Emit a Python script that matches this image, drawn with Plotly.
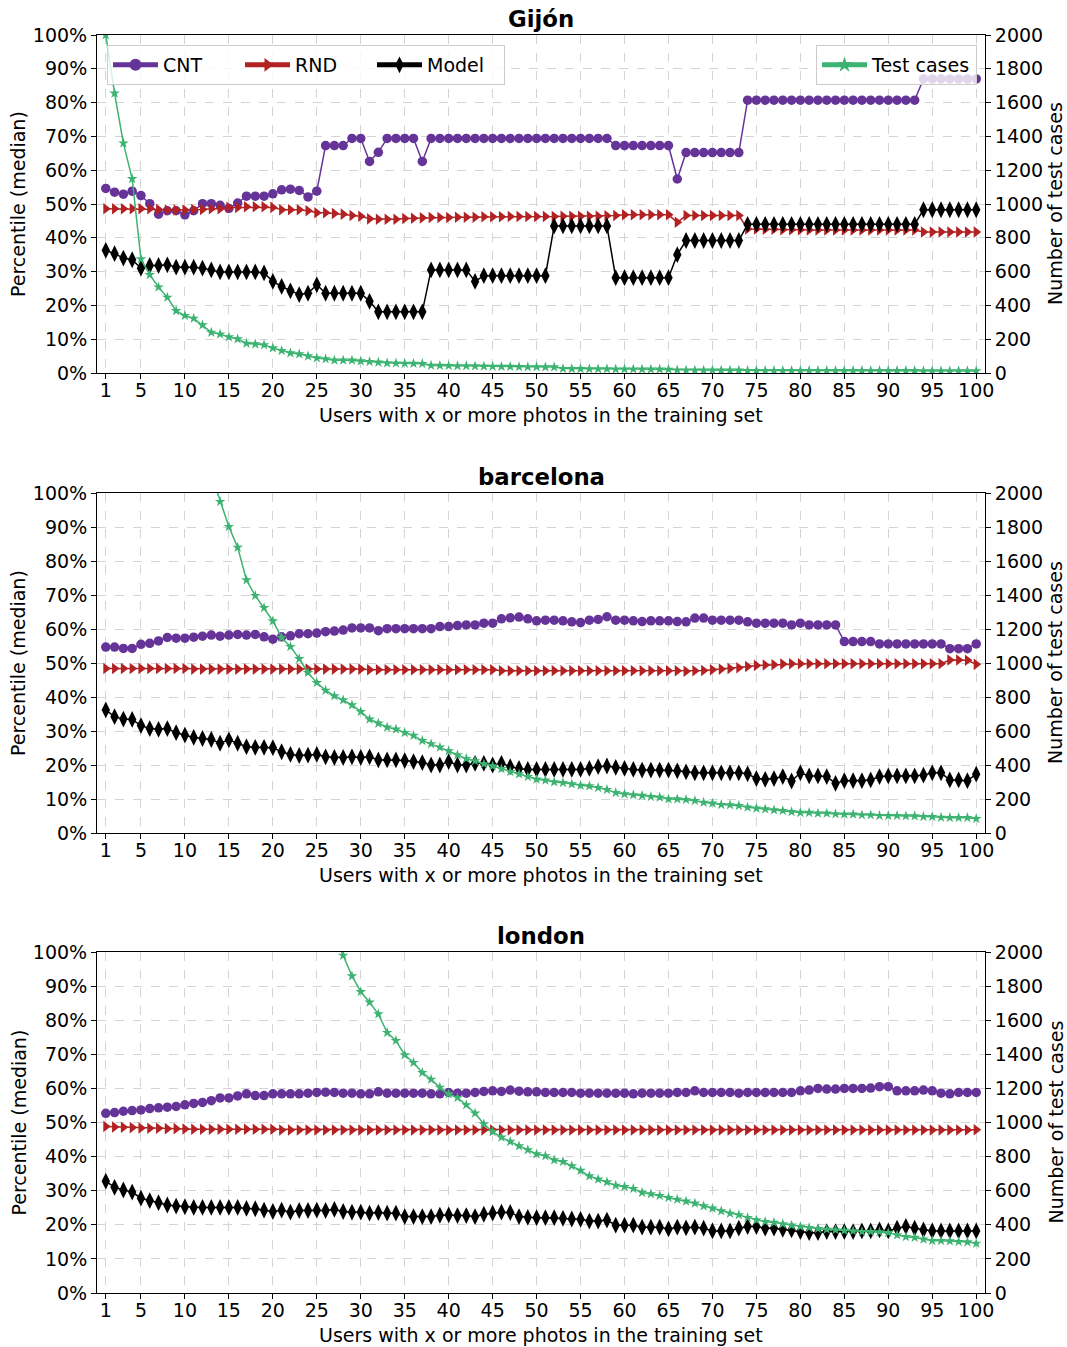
import plotly.graph_objects as go
from plotly.subplots import make_subplots

# ---------------- data ----------------
users = list(range(1, 101))

gijon_cnt = [54.6, 53.5, 52.9, 53.8, 52.5, 50.1, 47.0, 48.0, 48.0, 46.8,
             48.0, 50.1, 50.1, 49.6, 48.7, 50.3, 52.3, 52.3, 52.3, 53.0,
             54.2, 54.4, 54.0, 52.1, 53.8, 67.3, 67.3, 67.3, 69.4, 69.4,
             62.6, 65.3, 69.4, 69.4, 69.4, 69.4, 62.6, 69.4, 69.4, 69.4,
             69.4, 69.4, 69.4, 69.4, 69.4, 69.4, 69.4, 69.4, 69.4, 69.4,
             69.4, 69.4, 69.4, 69.4, 69.4, 69.4, 69.4, 69.4, 67.3, 67.3,
             67.3, 67.3, 67.3, 67.3, 67.3, 57.4, 65.2, 65.2, 65.2, 65.2,
             65.2, 65.2, 65.2, 80.7, 80.7, 80.7, 80.7, 80.7, 80.7, 80.7,
             80.7, 80.7, 80.7, 80.7, 80.7, 80.7, 80.7, 80.7, 80.7, 80.7,
             80.7, 80.7, 80.7, 87.0, 87.0, 87.0, 87.0, 87.0, 87.0, 87.0]
gijon_rnd = [48.6, 48.6, 48.6, 48.6, 48.6, 48.6, 48.4, 48.2, 48.2, 48.2,
             48.4, 48.4, 48.6, 48.6, 49.0, 49.0, 49.2, 49.2, 49.2, 49.0,
             48.3, 48.3, 48.3, 48.0, 47.4, 47.4, 47.2, 47.0, 46.6, 46.4,
             45.6, 45.5, 45.5, 45.5, 45.7, 45.8, 45.9, 46.0, 46.0, 46.0,
             46.1, 46.1, 46.1, 46.2, 46.2, 46.2, 46.3, 46.3, 46.3, 46.3,
             46.3, 46.3, 46.4, 46.4, 46.4, 46.4, 46.4, 46.5, 46.6, 46.8,
             46.8, 46.8, 46.8, 46.8, 46.8, 44.6, 46.6, 46.6, 46.6, 46.6,
             46.6, 46.6, 46.6, 42.6, 42.6, 42.5, 42.5, 42.4, 42.4, 42.4,
             42.3, 42.3, 42.3, 42.3, 42.3, 42.3, 42.3, 42.3, 42.3, 42.3,
             42.3, 42.3, 42.3, 41.7, 41.7, 41.7, 41.7, 41.7, 41.7, 41.7]
gijon_model = [36.3, 35.3, 34.0, 33.5, 31.0, 31.8, 31.8, 32.0, 31.3, 31.3,
               31.3, 31.0, 30.5, 29.9, 29.9, 29.9, 29.9, 29.9, 29.6, 27.1,
               25.6, 24.3, 23.2, 23.6, 26.1, 23.6, 23.6, 23.6, 23.6, 23.6,
               21.2, 18.1, 18.1, 18.1, 18.1, 18.1, 18.1, 30.5, 30.5, 30.5,
               30.5, 30.5, 27.1, 28.8, 28.8, 28.8, 28.8, 28.8, 28.8, 28.8,
               28.8, 43.5, 43.5, 43.5, 43.5, 43.5, 43.5, 43.5, 28.2, 28.2,
               28.2, 28.2, 28.2, 28.2, 28.2, 35.0, 39.2, 39.2, 39.2, 39.2,
               39.2, 39.2, 39.2, 44.0, 44.0, 44.0, 44.0, 44.0, 44.0, 44.0,
               44.0, 44.0, 44.0, 44.0, 44.0, 44.0, 44.0, 44.0, 44.0, 44.0,
               44.0, 44.0, 44.0, 48.3, 48.3, 48.3, 48.3, 48.3, 48.3, 48.3]
gijon_test = [2000, 1655, 1360, 1149, 674, 581, 508, 447, 368, 339,
              323, 284, 240, 230, 213, 201, 175, 171, 166, 148,
              132, 118, 112, 100, 89, 83, 75, 75, 75, 71,
              67, 63, 59, 58, 57, 56, 55, 45, 44, 43,
              42, 42, 41, 40, 39, 38, 38, 37, 36, 36,
              35, 35, 26, 25, 25, 24, 24, 24, 23, 23,
              23, 22, 22, 22, 21, 17, 16, 16, 16, 16,
              16, 16, 16, 14, 14, 14, 14, 14, 14, 14,
              14, 14, 14, 14, 14, 14, 14, 14, 14, 14,
              14, 14, 14, 12, 12, 12, 12, 12, 12, 12]

barcelona_cnt = [54.7, 54.7, 54.3, 54.3, 55.5, 55.8, 56.5, 57.5, 57.3, 57.3,
                 57.6, 57.9, 58.2, 57.9, 58.2, 58.4, 58.2, 58.4, 57.7, 57.0,
                 57.7, 58.0, 58.6, 58.6, 58.8, 59.2, 59.4, 59.7, 60.3, 60.3,
                 60.3, 59.5, 60.1, 60.1, 60.1, 60.1, 60.1, 60.1, 60.7, 60.7,
                 61.0, 61.2, 61.2, 61.7, 61.7, 63.0, 63.3, 63.5, 63.0, 62.4,
                 62.6, 62.6, 62.4, 62.1, 61.9, 62.6, 62.8, 63.6, 62.6, 62.6,
                 62.4, 62.2, 62.4, 62.4, 62.4, 62.2, 62.1, 63.2, 63.2, 62.6,
                 62.6, 62.6, 62.6, 62.1, 61.7, 61.7, 61.7, 61.7, 61.2, 61.7,
                 61.2, 61.2, 61.2, 61.2, 56.3, 56.3, 56.3, 56.3, 55.6, 55.6,
                 55.6, 55.6, 55.6, 55.6, 55.6, 55.6, 54.2, 54.2, 54.2, 55.6]
barcelona_rnd = [48.4, 48.4, 48.4, 48.4, 48.4, 48.4, 48.4, 48.4, 48.4, 48.4,
                 48.2, 48.2, 48.2, 48.2, 48.2, 48.2, 48.2, 48.2, 48.2, 48.2,
                 48.2, 48.2, 48.2, 48.2, 48.2, 48.2, 48.2, 48.2, 48.2, 48.2,
                 48.0, 48.0, 48.0, 48.0, 48.0, 48.0, 48.0, 48.0, 48.0, 48.0,
                 48.0, 48.0, 48.0, 48.0, 48.0, 47.7, 47.7, 47.7, 47.7, 47.7,
                 47.7, 47.7, 47.7, 47.7, 47.7, 47.7, 47.7, 47.7, 47.7, 47.7,
                 47.7, 47.7, 47.7, 47.7, 47.7, 47.7, 47.6, 47.7, 47.8, 48.0,
                 48.2, 48.4, 48.6, 49.0, 49.3, 49.4, 49.5, 49.7, 49.8, 49.8,
                 49.8, 49.8, 49.8, 49.8, 49.8, 49.8, 49.8, 49.8, 49.8, 49.8,
                 49.8, 49.8, 49.8, 49.8, 49.8, 49.8, 50.9, 50.9, 50.8, 49.6]
barcelona_model = [36.2, 34.2, 33.5, 33.4, 31.6, 30.7, 30.5, 30.7, 29.5, 28.8,
                   28.1, 27.8, 27.5, 26.4, 27.4, 26.4, 25.4, 25.2, 25.2, 25.1,
                   23.9, 23.1, 22.8, 22.9, 23.1, 22.4, 22.2, 22.2, 22.4, 22.2,
                   22.4, 21.5, 21.5, 21.5, 21.3, 21.0, 20.7, 20.0, 20.0, 21.0,
                   20.0, 20.0, 20.5, 20.5, 20.0, 20.5, 19.5, 19.0, 18.7, 18.7,
                   18.7, 18.7, 18.7, 18.7, 18.7, 19.0, 19.5, 19.7, 19.3, 19.0,
                   18.7, 18.5, 18.5, 18.5, 18.5, 18.3, 18.0, 17.7, 17.7, 17.7,
                   17.7, 17.7, 17.7, 17.4, 16.0, 15.8, 16.0, 16.6, 15.3, 17.7,
                   16.8, 16.8, 16.6, 14.6, 15.4, 15.4, 15.4, 15.6, 16.6, 16.8,
                   16.8, 16.8, 16.8, 17.0, 17.7, 17.7, 15.6, 15.6, 15.4, 17.3]
barcelona_test = [None, None, None, None, None, None, None, None, None, None,
                  None, None, 2110, 1949, 1802, 1680, 1488, 1396, 1325, 1247,
                  1149, 1096, 1025, 943, 884, 839, 806, 782, 753, 714,
                  669, 645, 622, 610, 590, 573, 543, 524, 504, 482,
                  459, 437, 424, 406, 394, 378, 361, 347, 331, 316,
                  310, 300, 296, 288, 280, 276, 267, 255, 237, 229,
                  224, 220, 214, 210, 200, 200, 196, 190, 180, 175,
                  167, 165, 161, 151, 145, 141, 135, 131, 125, 120,
                  120, 116, 116, 112, 110, 110, 106, 106, 102, 102,
                  102, 100, 100, 96, 96, 92, 90, 90, 90, 84]

london_cnt = [52.7, 52.9, 53.3, 53.5, 53.7, 54.1, 54.3, 54.5, 54.7, 55.2,
              55.6, 55.9, 56.4, 57.2, 57.2, 57.8, 58.4, 57.9, 57.9, 58.4,
              58.4, 58.4, 58.4, 58.6, 58.8, 58.9, 58.8, 58.6, 58.6, 58.4,
              58.4, 59.0, 58.6, 58.6, 58.6, 58.6, 58.6, 58.4, 58.4, 58.8,
              58.6, 58.6, 58.8, 59.1, 59.3, 59.1, 59.5, 59.2, 59.0, 59.0,
              58.8, 58.8, 58.8, 58.8, 58.6, 58.6, 58.6, 58.6, 58.6, 58.6,
              58.4, 58.6, 58.6, 58.6, 58.6, 58.8, 58.8, 59.3, 58.8, 58.8,
              58.8, 58.8, 58.6, 58.8, 58.8, 58.8, 58.8, 58.8, 58.8, 59.3,
              59.5, 60.0, 59.8, 59.8, 60.0, 60.0, 60.0, 60.1, 60.5, 60.5,
              59.3, 59.3, 59.3, 59.5, 59.3, 58.6, 58.4, 58.8, 58.8, 58.8]
london_rnd = [48.8, 48.7, 48.6, 48.5, 48.4, 48.3, 48.3, 48.2, 48.2, 48.1,
              48.0, 48.0, 48.0, 48.0, 48.0, 48.0, 48.0, 48.0, 48.0, 48.0,
              47.8, 47.8, 47.8, 47.8, 47.8, 47.8, 47.8, 47.8, 47.8, 47.8,
              47.8, 47.8, 47.8, 47.8, 47.8, 47.8, 47.8, 47.8, 47.8, 47.8,
              47.8, 47.8, 47.8, 47.8, 47.8, 47.8, 47.8, 47.8, 47.8, 47.8,
              47.8, 47.8, 47.8, 47.8, 47.8, 47.8, 47.8, 47.8, 47.8, 47.8,
              47.8, 47.8, 47.8, 47.8, 47.8, 47.8, 47.8, 47.8, 47.8, 47.8,
              47.8, 47.8, 47.8, 47.8, 47.8, 47.8, 47.8, 47.8, 47.8, 47.8,
              47.8, 47.8, 47.8, 47.8, 47.8, 47.8, 47.8, 47.8, 47.8, 47.8,
              47.8, 47.8, 47.8, 47.8, 47.8, 47.8, 47.8, 47.8, 47.8, 47.9]
london_model = [32.8, 31.0, 30.2, 29.6, 27.8, 27.1, 26.5, 25.8, 25.5, 25.3,
                25.1, 25.1, 25.1, 25.1, 25.1, 25.1, 24.8, 24.7, 24.3, 23.9,
                24.3, 23.7, 24.2, 24.2, 24.3, 24.2, 24.5, 23.9, 23.7, 23.7,
                23.4, 23.6, 23.4, 23.4, 22.4, 22.4, 22.4, 22.4, 22.8, 22.9,
                22.7, 22.7, 22.4, 23.1, 23.4, 23.7, 23.6, 22.4, 22.2, 22.1,
                22.1, 22.1, 21.9, 21.7, 21.6, 21.1, 21.1, 21.4, 19.9, 19.9,
                19.9, 19.3, 19.3, 19.3, 18.8, 19.3, 19.1, 19.3, 19.0, 18.2,
                18.2, 18.2, 19.0, 19.5, 19.5, 19.0, 19.0, 18.7, 18.5, 18.0,
                17.7, 17.7, 18.0, 18.0, 18.0, 18.0, 18.2, 18.2, 18.5, 18.2,
                19.0, 19.5, 19.0, 18.5, 18.2, 18.2, 18.2, 18.2, 18.2, 18.2]
london_test = [None, None, None, None, None, None, None, None, None, None,
               None, None, None, None, None, None, None, None, None, None,
               None, None, None, None, None, None, 2090, 1980, 1859, 1767,
               1705, 1636, 1527, 1480, 1396, 1351, 1292, 1253, 1206, 1167,
               1146, 1103, 1054, 991, 946, 913, 888, 862, 839, 815,
               804, 780, 770, 745, 718, 686, 667, 651, 631, 624,
               612, 589, 581, 571, 559, 549, 538, 526, 510, 497,
               481, 467, 458, 442, 428, 418, 413, 405, 397, 389,
               383, 377, 373, 370, 366, 364, 360, 360, 358, 354,
               340, 330, 325, 315, 307, 307, 305, 301, 299, 291]

cities = ["Gijón", "barcelona", "london"]
x_ticks = [1, 5, 10, 15, 20, 25, 30, 35, 40, 45, 50, 55, 60, 65, 70, 75, 80, 85, 90, 95, 100]

panels = [
    (gijon_cnt, gijon_rnd, gijon_model, gijon_test),
    (barcelona_cnt, barcelona_rnd, barcelona_model, barcelona_test),
    (london_cnt, london_rnd, london_model, london_test),
]

# ---------------- layout geometry (pixels) ----------------
W, H = 1067, 1347
X0, X1 = 97, 985
panel_px = [(35, 373), (493, 833), (952, 1293)]
FONT = "DejaVu Sans"
FS = 19

def fx(p):
    return p / W

def fy(p):
    return 1 - p / H

C_CNT = "#663399"
C_RND = "#b22222"
C_MOD = "#000000"
C_TST = "#3cb371"

fig = make_subplots(rows=3, cols=1, specs=[[{"secondary_y": True}]] * 3)

for i, (cnt, rnd, mod, tst) in enumerate(panels):
    r = i + 1
    first = (i == 0)
    fig.add_trace(go.Scatter(x=users, y=cnt, name="CNT", mode="lines+markers",
                             line=dict(color=C_CNT, width=1.5),
                             marker=dict(symbol="circle", size=9.5, color=C_CNT),
                             showlegend=first, legend="legend"),
                  row=r, col=1, secondary_y=False)
    fig.add_trace(go.Scatter(x=users, y=rnd, name="RND", mode="lines+markers",
                             line=dict(color=C_RND, width=1.5),
                             marker=dict(symbol="triangle-right", size=10, color=C_RND),
                             showlegend=first, legend="legend"),
                  row=r, col=1, secondary_y=False)
    fig.add_trace(go.Scatter(x=users, y=mod, name="Model", mode="lines+markers",
                             line=dict(color=C_MOD, width=1.5),
                             marker=dict(symbol="diamond-tall", size=12, color=C_MOD),
                             showlegend=first, legend="legend"),
                  row=r, col=1, secondary_y=False)
    fig.add_trace(go.Scatter(x=users, y=tst, name="Test cases", mode="lines+markers",
                             line=dict(color=C_TST, width=1.5),
                             marker=dict(symbol="star", size=8, color=C_TST),
                             connectgaps=False,
                             showlegend=first, legend="legend2"),
                  row=r, col=1, secondary_y=True)

    top, bot = panel_px[i]
    dom = [fy(bot), fy(top)]
    fig.update_xaxes(row=r, col=1, domain=[fx(X0), fx(X1)], range=[0, 101],
                     tickmode="array", tickvals=x_ticks, automargin=False,
                     ticks="outside", ticklen=5, tickcolor="black",
                     ticklabelstandoff=-5,
                     showline=True, linecolor="black", linewidth=1, mirror=True,
                     showgrid=True, gridcolor="#d4d4d4", griddash="dash", gridwidth=1,
                     zeroline=False, tickfont=dict(family=FONT, size=FS, color="black"))
    fig.update_yaxes(row=r, col=1, secondary_y=False, domain=dom, range=[0, 100],
                     tickmode="linear", tick0=0, dtick=10, ticksuffix="%", automargin=False,
                     ticks="outside", ticklen=5, tickcolor="black",
                     showline=True, linecolor="black", linewidth=1,
                     showgrid=True, gridcolor="#d4d4d4", griddash="dash", gridwidth=1,
                     zeroline=False, tickfont=dict(family=FONT, size=FS, color="black"))
    fig.update_yaxes(row=r, col=1, secondary_y=True, domain=dom, range=[0, 2000],
                     tickmode="linear", tick0=0, dtick=200, automargin=False,
                     ticks="outside", ticklen=5, tickcolor="black",
                     showline=True, linecolor="black", linewidth=1,
                     showgrid=False, zeroline=False,
                     tickfont=dict(family=FONT, size=FS, color="black"))

    cy = (top + bot) / 2
    cx = (X0 + X1) / 2
    fig.add_annotation(text="<b>" + cities[i] + "</b>", xref="paper", yref="paper",
                       x=fx(cx), y=fy(top - 16), xanchor="center", yanchor="middle",
                       showarrow=False, font=dict(family=FONT, size=22.8, color="black"))
    fig.add_annotation(text="Users with x or more photos in the training set",
                       xref="paper", yref="paper", x=fx(cx), y=fy(bot + 42),
                       xanchor="center", yanchor="middle", showarrow=False,
                       font=dict(family=FONT, size=FS, color="black"))
    fig.add_annotation(text="Percentile (median)", xref="paper", yref="paper",
                       x=fx(18), y=fy(cy), xanchor="center", yanchor="middle",
                       textangle=-90, showarrow=False,
                       font=dict(family=FONT, size=FS, color="black"))
    fig.add_annotation(text="Number of test cases", xref="paper", yref="paper",
                       x=fx(1055), y=fy(cy), xanchor="center", yanchor="middle",
                       textangle=-90, showarrow=False,
                       font=dict(family=FONT, size=FS, color="black"))

fig.update_layout(
    width=W, height=H,
    margin=dict(l=0, r=0, t=0, b=0, autoexpand=False),
    paper_bgcolor="white", plot_bgcolor="white",
    font=dict(family=FONT, size=FS, color="black"),
    legend=dict(orientation="h", x=fx(107), y=fy(45), xanchor="left", yanchor="top",
                bgcolor="rgba(255,255,255,0.8)", bordercolor="#cccccc", borderwidth=1,
                font=dict(family=FONT, size=FS, color="black"),
                itemwidth=45, entrywidth=72, itemsizing="constant"),
    legend2=dict(orientation="h", x=fx(977), y=fy(45), xanchor="right", yanchor="top",
                 bgcolor="rgba(255,255,255,0.8)", bordercolor="#cccccc", borderwidth=1,
                 font=dict(family=FONT, size=FS, color="black"),
                 itemwidth=45, itemsizing="constant"),
    hovermode=False,
)

fig.write_html("out.html")
